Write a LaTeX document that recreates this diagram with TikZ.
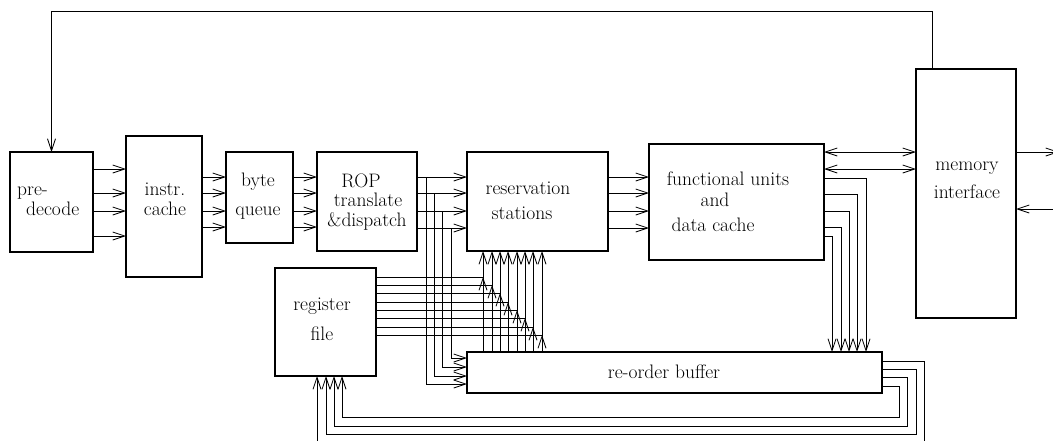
\documentclass[tikz,border=0pt]{standalone}
\usetikzlibrary{arrows.meta,calc}
\begin{document}
\begin{tikzpicture}[x=1pt,y=-1pt,
  box/.style={draw, line width=1.3pt, inner sep=0pt, outer sep=0pt, anchor=north west},
  conn/.style={line width=0.8pt},
  arr/.style={conn, -{Straight Barb[length=12pt,width=8pt]}},
  darr/.style={conn, {Straight Barb[length=12pt,width=8pt]}-{Straight Barb[length=12pt,width=8pt]}},
  lbl/.style={font=\rmfamily\fontsize{19.5}{21}\selectfont, anchor=base, inner sep=0pt}]
\useasboundingbox (0,0) rectangle (1053,440);
% boxes
\node[box, minimum width=83pt,  minimum height=100pt] (pd)  at (10,152) {};
\node[box, minimum width=76pt,  minimum height=141pt] (ic)  at (126,136) {};
\node[box, minimum width=67pt,  minimum height=91pt]  (bq)  at (226,152) {};
\node[box, minimum width=100pt, minimum height=99pt]  (rop) at (317,152) {};
\node[box, minimum width=141pt, minimum height=99pt]  (rs)  at (467,152) {};
\node[box, minimum width=175pt, minimum height=116pt] (fu)  at (649,144) {};
\node[box, minimum width=100pt, minimum height=249pt] (mi)  at (916,69) {};
\node[box, minimum width=101pt, minimum height=108pt] (rf)  at (275,268) {};
\node[box, minimum width=415pt, minimum height=41pt]  (rob) at (467,352) {};
% labels
\node[lbl, anchor=base west] (t1) at (17,195) {pre-};
\node[lbl, anchor=base west] (t2) at (26,215) {decode};
\node[lbl] (t3) at (165,195) {instr.};
\node[lbl] (t4) at (165,215) {cache};
\node[lbl] (t5) at (258,186) {byte};
\node[lbl] (t6) at (258,215) {queue};
\node[lbl] (t7) at (361,187) {ROP};
\node[lbl] (t8) at (368,206) {translate};
\node[lbl] (t9) at (367,226) {\&dispatch};
\node[lbl] (t10) at (528,194) {reservation};
\node[lbl] (t11) at (522,219) {stations};
\node[lbl] (t12) at (728,185) {functional units};
\node[lbl] (t13) at (715,206) {and};
\node[lbl] (t14) at (713,231) {data cache};
\node[lbl] (t15) at (967,170) {memory};
\node[lbl] (t16) at (967,198) {interface};
\node[lbl] (t17) at (322,310) {register};
\node[lbl] (t18) at (322,340) {file};
\node[lbl] (t19) at (664,378) {re-order buffer};
% pipeline arrows
\foreach \y in {169,193,211,236} \draw[arr] (pd.east |- 0,\y) -- (ic.west |- 0,\y);
\foreach \y in {177,193,211,227} \draw[arr] (ic.east |- 0,\y) -- (bq.west |- 0,\y);
\foreach \y in {177,193,211,227} \draw[arr] (bq.east |- 0,\y) -- (rop.west |- 0,\y);
\foreach \y in {177,193,211,228} \draw[arr] (rop.east |- 0,\y) -- (rs.west |- 0,\y);
\foreach \y in {177,193,211,228} \draw[arr] (rs.east |- 0,\y) -- (fu.west |- 0,\y);
% ROP dispatch to re-order buffer
\foreach \x/\y/\z in {426/177/384, 434/193/376, 442/211/367, 451/228/358}
  \draw[arr] (\x,\y) |- (rob.west |- 0,\z);
% re-order buffer to reservation stations
\foreach \x in {483,492,500,508,517,525,533,542}
  \draw[arr] (rob.north -| \x,0) -- (rs.south -| \x,0);
% register file to reservation stations
\foreach \y/\x in {277/483,285/492,293/500,302/508,310/517,318/525,327/533,335/542}{
  \draw[conn] (rf.east |- 0,\y) -- (\x,\y);
  \draw[arr] (\x,\y+9) -- (\x,\y);
}
% functional units and memory interface
\foreach \y in {152,169} \draw[darr] (fu.east |- 0,\y) -- (mi.west |- 0,\y);
% functional units to re-order buffer
\foreach \y/\x in {178/866,194/857,211/849,227/841,236/832}
  \draw[arr] (fu.east |- 0,\y) -| (rob.north -| \x,0);
% re-order buffer to register file
\foreach \ya/\xa/\yb/\xb in {361/924/442/317, 369/916/434/326, 377/907/426/334, 386/899/417/342}
  \draw[arr] (rob.east |- 0,\ya) -| (\xa,\yb) -| (rf.south -| \xb,0);
% memory interface external
\coordinate (out1) at (1059,152);
\coordinate (in1) at (1062,209);
\draw[arr] (mi.east |- out1) -- (out1);
\draw[arr] (in1) -- (mi.east |- in1);
% feedback to pre-decode
\coordinate (fb) at (932,11);
\draw[arr] (mi.north -| fb) -- (fb) -| (pd.north);
\end{tikzpicture}
\end{document}
